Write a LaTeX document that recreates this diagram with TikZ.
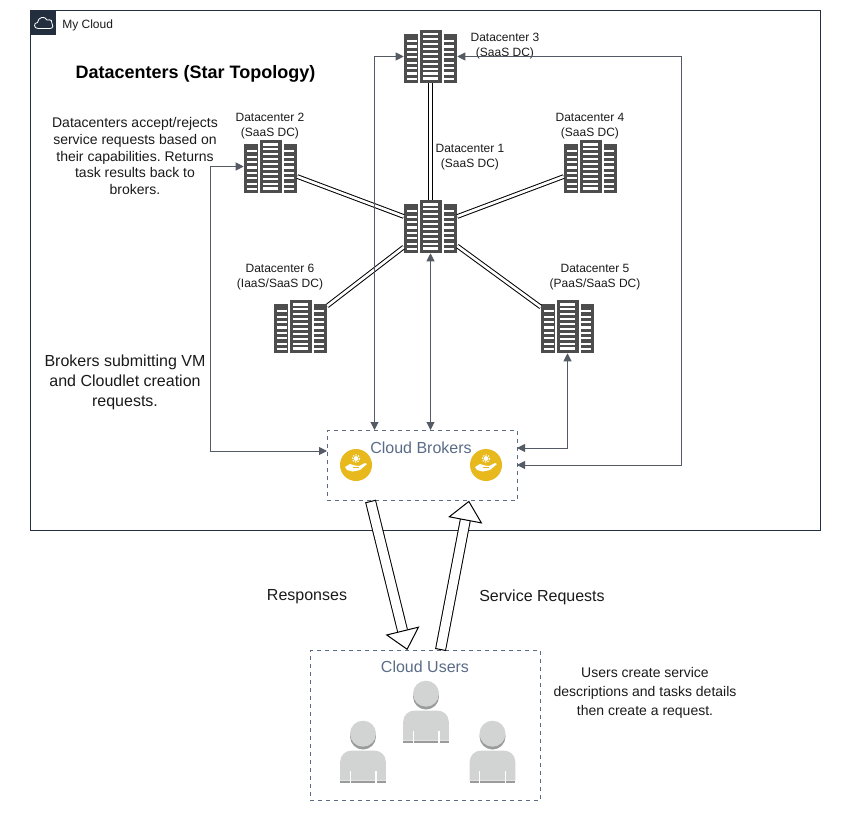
\documentclass[tikz,border=0pt]{standalone}
\usepackage{fontspec}
\setmainfont{Liberation Sans}
\usetikzlibrary{arrows.meta}
\usetikzlibrary{calc}
\frenchspacing
\definecolor{cloudnavy}{RGB}{35,47,62}
\definecolor{linkgray}{RGB}{84,91,100}
\definecolor{rackgray}{RGB}{77,77,77}
\definecolor{boxslate}{RGB}{90,108,134}
\definecolor{userlight}{RGB}{210,211,211}
\definecolor{userdark}{RGB}{155,155,155}
\definecolor{iconyellow}{RGB}{232,185,28}
\definecolor{textgray}{RGB}{26,26,26}
\tikzstyle{dcnode}=[minimum width=53*0.75pt,minimum height=53*0.75pt,inner sep=0pt,
  path picture={
    \fill[rackgray] ($(path picture bounding box.south west)$) rectangle ++(13.5*0.75pt,49*0.75pt);
    \fill[rackgray] ($(path picture bounding box.south west)+(15.5*0.75pt,0)$) rectangle ++(22*0.75pt,53*0.75pt);
    \fill[rackgray] ($(path picture bounding box.south west)+(39.5*0.75pt,0)$) rectangle ++(13.5*0.75pt,49*0.75pt);
    \foreach \k in {1,...,8} {
      \fill[white] ($(path picture bounding box.south west)+(2.7*0.75pt,{(\k*5.4-2.5)*0.75pt})$) rectangle ++(10*0.75pt,2.2*0.75pt);
      \fill[white] ($(path picture bounding box.south west)+(40.3*0.75pt,{(\k*5.4-2.5)*0.75pt})$) rectangle ++(10*0.75pt,2.2*0.75pt);
    }
    \foreach \k in {1,...,10} {
      \fill[white] ($(path picture bounding box.south west)+(18.5*0.75pt,{(\k*4.9-1.5)*0.75pt})$) rectangle ++(15.5*0.75pt,2.2*0.75pt);
    }
  }]
\tikzstyle{dclabel}=[align=center,font=\fontsize{9}{11.25}\selectfont,text=textgray,inner sep=0pt]
\tikzstyle{notetext}=[align=center,font=\fontsize{10.5}{14.25}\selectfont,text=textgray,inner sep=0pt]
\tikzstyle{bigtext}=[align=center,font=\fontsize{12}{15}\selectfont,text=textgray,inner sep=0pt]
\tikzstyle{boxlabel}=[font=\fontsize{12}{15}\selectfont,text=boxslate,inner sep=0pt]
\tikzstyle{dashbox}=[draw=boxslate,dashed,line width=0.75pt,inner sep=0pt]
\tikzstyle{trunk}=[draw=black,double,double distance=2pt,line width=0.75pt]
\tikzstyle{link}=[draw=linkgray,line width=0.75pt,{Triangle[length=6pt,width=6pt]}-{Triangle[length=6pt,width=6pt]}]
\tikzstyle{hollow}=[draw=black,double,double distance=6.75pt,line width=0.75pt,
  {Bar[width=8.25pt,line width=0.75pt]}-{Triangle[open,fill=white,length=15pt,width=26pt,line width=0.75pt]}]

\begin{document}
\begin{tikzpicture}[x=0.75pt,y=-0.75pt]
  \useasboundingbox (0,0) rectangle (853,824);

  % outer cloud group
  \node (mycloud) [draw=cloudnavy,line width=0.75pt,minimum width=790*0.75pt,minimum height=520*0.75pt,inner sep=0pt] at (425.5,270.5) {};
  \fill[cloudnavy] (30.5,10.5) rectangle (55.5,35.5);
  \draw[white,line width=0.6pt] (38,28.5) .. controls (33.5,28.5) and (33.5,22.5) .. (37.5,22.5)
    .. controls (38,17) and (45,15.5) .. (47,20) .. controls (51,19) and (53,21.5) .. (52,23.5)
    .. controls (54,25) and (53,28.5) .. (50,28.5) -- cycle;
  \node (mycloudlabel) [anchor=west,font=\fontsize{9}{11}\selectfont,text=textgray,inner sep=0pt] at (62,25) {My Cloud};

  \node (startitle) [anchor=center,font=\bfseries\fontsize{13.5}{16}\selectfont,text=black,inner sep=0pt] at (195.5,73.5) {Datacenters (Star Topology)};
  \node (notedc) [notetext,font=\fontsize{10.5}{12.6}\selectfont] at (135,156) {Datacenters accept/rejects\\service requests based on\\their capabilities. Returns\\task results back to\\brokers.};
  \node (notebrokers) [bigtext] at (125,382.5) {Brokers submitting VM\\and Cloudlet creation\\requests.};
  \node (noteusers) [notetext] at (645,693) {Users create service\\descriptions and tasks details\\then create a request.};
  \node (resplabel) [bigtext] at (307,597) {Responses};
  \node (reqlabel) [bigtext] at (542,597) {Service Requests};

  % datacenters
  \node (dc1) [dcnode] at (430.5,226.5) {};
  \node (dc2) [dcnode] at (270.5,166.5) {};
  \node (dc3) [dcnode] at (430.5,56.5) {};
  \node (dc4) [dcnode] at (590.5,166.5) {};
  \node (dc5) [dcnode] at (567.5,326.5) {};
  \node (dc6) [dcnode] at (300.5,326.5) {};

  \node (dc1label) [dclabel] at (470,157) {Datacenter 1\\(SaaS DC)};
  \node (dc2label) [dclabel] at (270,126.5) {Datacenter 2\\(SaaS DC)};
  \node (dc3label) [dclabel] at (505,46.5) {Datacenter 3\\(SaaS DC)};
  \node (dc4label) [dclabel] at (590,126.5) {Datacenter 4\\(SaaS DC)};
  \node (dc5label) [dclabel] at (595,277) {Datacenter 5\\(PaaS/SaaS DC)};
  \node (dc6label) [dclabel] at (280,277) {Datacenter 6\\(IaaS/SaaS DC)};

  \draw[trunk] (dc1) -- (dc2);
  \draw[trunk] (dc1) -- (dc3);
  \draw[trunk] (dc1) -- (dc4);
  \draw[trunk] (dc1) -- (dc5);
  \draw[trunk] (dc1) -- (dc6);

  % brokers and users
  \node (brokers) [dashbox,minimum width=190*0.75pt,minimum height=70.5*0.75pt] at (422,465.5) {};
  \node (brokerslabel) [boxlabel] at (421,448) {Cloud Brokers};
  \node (users) [dashbox,minimum width=230.5*0.75pt,minimum height=150*0.75pt] at (425.5,725.5) {};
  \node (userslabel) [boxlabel] at (425,667) {Cloud Users};

  \foreach \hx in {356,486} {
    \begin{scope}[shift={(\hx,465)}]
      \fill[iconyellow] (0,0) circle (16);
      \fill[white] (0,-6.5) circle (2.4);
      \draw[white,line width=0.8pt,dash pattern=on 1pt off 1pt] (0,-6.5) circle (3.6);
      \fill[white] (-11,2) -- (-6,-1) -- (-1,0.5) -- (3,1) -- (9,-2) -- (11,-1) -- (4,5) -- (-3,6.5) -- (-9,5) -- cycle;
      \draw[iconyellow,line width=0.6pt] (-3,2.5) -- (3,2.5);
    \end{scope}
  }

  \foreach \ux/\uy in {426/693.7,363/733.7,492.5/733.7} {
    \begin{scope}[shift={(\ux,\uy)}]
      \fill[userdark] (0,2.8) circle (13);
      \fill[userlight] (0,0) circle (13);
      \fill[userlight] (-22.8,47) -- (-22.8,28) .. controls (-22.8,21) and (-17,17) .. (-12,17)
        -- (12,17) .. controls (17,17) and (22.8,21) .. (22.8,28) -- (22.8,47) -- cycle;
      \fill[userdark] (-22.8,47) rectangle (22.8,49.6);
      \fill[white] (-13.5,37) rectangle (-12.3,49.6);
      \fill[white] (12.3,37) rectangle (13.5,49.6);
    \end{scope}
  }

  % links
  \coordinate (b2) at (327,451);
  \coordinate (b3) at (374.5,430);
  \coordinate (b1) at (430.5,430);
  \coordinate (b5) at (517,448);
  \coordinate (b6) at (517,465);
  \coordinate (corner) at (681,56.5);
  \coordinate (turn) at (210.5,166.5);
  \draw[link] (dc2.west) -- (turn) |- (b2);
  \draw[link] (dc3.west) -| (b3);
  \draw[link] (dc1.south) -- (b1);
  \draw[link] (dc5.south) |- (b5);
  \draw[link] (dc3.east) -- (corner) |- (b6);

  % big arrows
  \coordinate (resptail) at (370.5,501);
  \coordinate (resptip) at (407.3,650);
  \coordinate (reqtail) at (440.5,650);
  \coordinate (reqtip) at (469,500.7);
  \draw[hollow] (resptail) -- (resptip);
  \draw[hollow] (reqtail) -- (reqtip);
\end{tikzpicture}
\end{document}
